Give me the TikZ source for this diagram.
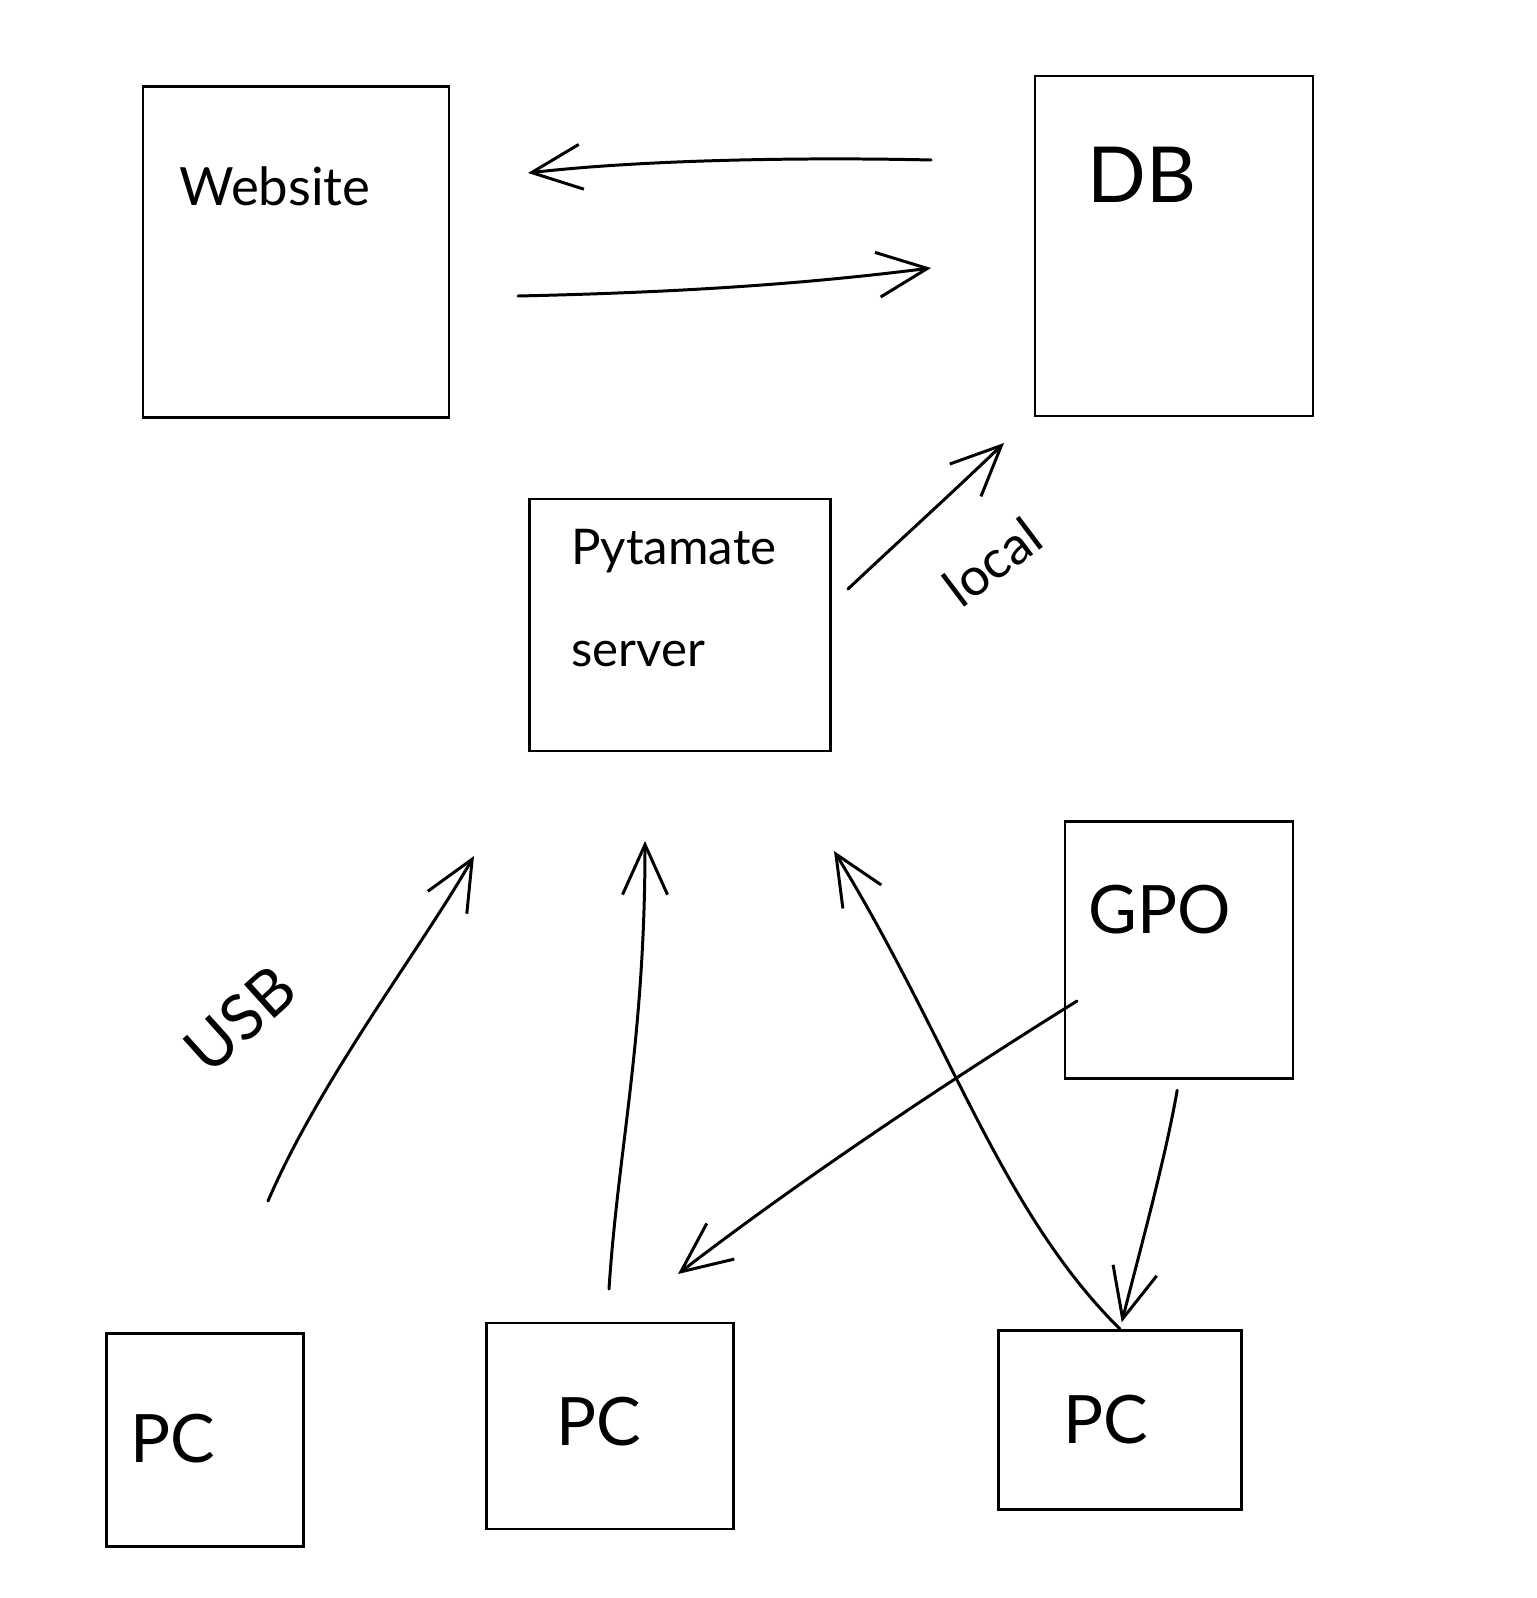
\documentclass[tikz,border=0pt]{standalone}
\usepackage{fontspec}
\setmainfont{Lato}
\usetikzlibrary{arrows.meta}
\tikzset{
  box/.style={draw,line width=1.6pt,inner sep=0pt},
  link/.style={line width=1.7pt,line cap=round,
    -{Straight Barb[length=10mm,width=9mm,line width=1.7pt]}},
  tag/.style={inner sep=0pt,font=\fontsize{30}{34}\selectfont},
  big tag/.style={tag,font=\fontsize{44}{48}\selectfont}
}
\begin{document}
\begin{tikzpicture}[x=0.02cm,y=-0.02cm]
  \useasboundingbox (0,0) rectangle (1536,1598);
  % boxes
  \node[box,minimum width=6.12cm,minimum height=6.62cm] (web) at (296,252) {};
  \node[box,minimum width=5.56cm,minimum height=6.8cm] (db) at (1174,246) {};
  \node[box,minimum width=6.02cm,minimum height=5.04cm] (pyta) at (680,625) {};
  \node[box,minimum width=4.56cm,minimum height=5.14cm] (gpo) at (1179,950) {};
  \node[box,minimum width=3.94cm,minimum height=4.26cm] (pc1) at (205,1440) {};
  \node[box,minimum width=4.94cm,minimum height=4.12cm] (pc2) at (610,1426) {};
  \node[box,minimum width=4.86cm,minimum height=3.58cm] (pc3) at (1120,1420) {};
  % texts
  \node[tag] (web text) at (275,186) {Website};
  \node[big tag] (db text) at (1142,175) {DB};
  \node[tag,align=left,anchor=west,font=\fontsize{28}{58}\selectfont]
    (pyta text) at (571,598) {Pytamate\\server};
  \node[big tag,font=\fontsize{38}{42}\selectfont] (gpo text) at (1160,910) {GPO};
  \node[big tag,font=\fontsize{38}{42}\selectfont] (pc1 text) at (173,1439) {PC};
  \node[big tag,font=\fontsize{38}{42}\selectfont] (pc2 text) at (599,1422) {PC};
  \node[big tag,font=\fontsize{38}{42}\selectfont] (pc3 text) at (1106,1420) {PC};
  \node[tag,rotate=37] (local text) at (992,562) {local};
  \node[tag,rotate=42,font=\fontsize{36}{40}\selectfont] (usb text) at (240,1019) {USB};
  % free ends
  \coordinate (db out) at (931,160);
  \coordinate (web in) at (528,173);
  \coordinate (web out) at (518,296);
  \coordinate (db in) at (931,268);
  \coordinate (pyta out) at (848,589);
  \coordinate (db low) at (1004,443);
  \coordinate (usb out) at (268,1201);
  \coordinate (usb in) at (474,856);
  \coordinate (pc2 out) at (609,1289);
  \coordinate (pyta in) at (645,841);
  \coordinate (pyta in2) at (834,851);
  \coordinate (gpo out) at (1077,1001);
  \coordinate (pc2 in) at (678,1274);
  % connectors
  \draw[link] (db out) .. controls (800,157) and (640,160) .. (web in);
  \draw[link] (web out) .. controls (700,292) and (820,282) .. (db in);
  \draw[link] (pyta out) .. controls (900,540) and (950,495) .. (db low);
  \draw[link] (usb out) .. controls (320,1080) and (420,950) .. (usb in);
  \draw[link] (pc2 out) .. controls (618,1150) and (645,1040) .. (pyta in);
  \draw[link] (pc3.north) .. controls (1000,1210) and (950,1040) .. (pyta in2);
  \draw[link] (gpo out) .. controls (950,1080) and (800,1180) .. (pc2 in);
  \draw[link,shorten <=6pt,shorten >=4pt] (gpo.south) .. controls (1165,1160) and (1140,1250) .. (pc3.north);
\end{tikzpicture}
\end{document}
